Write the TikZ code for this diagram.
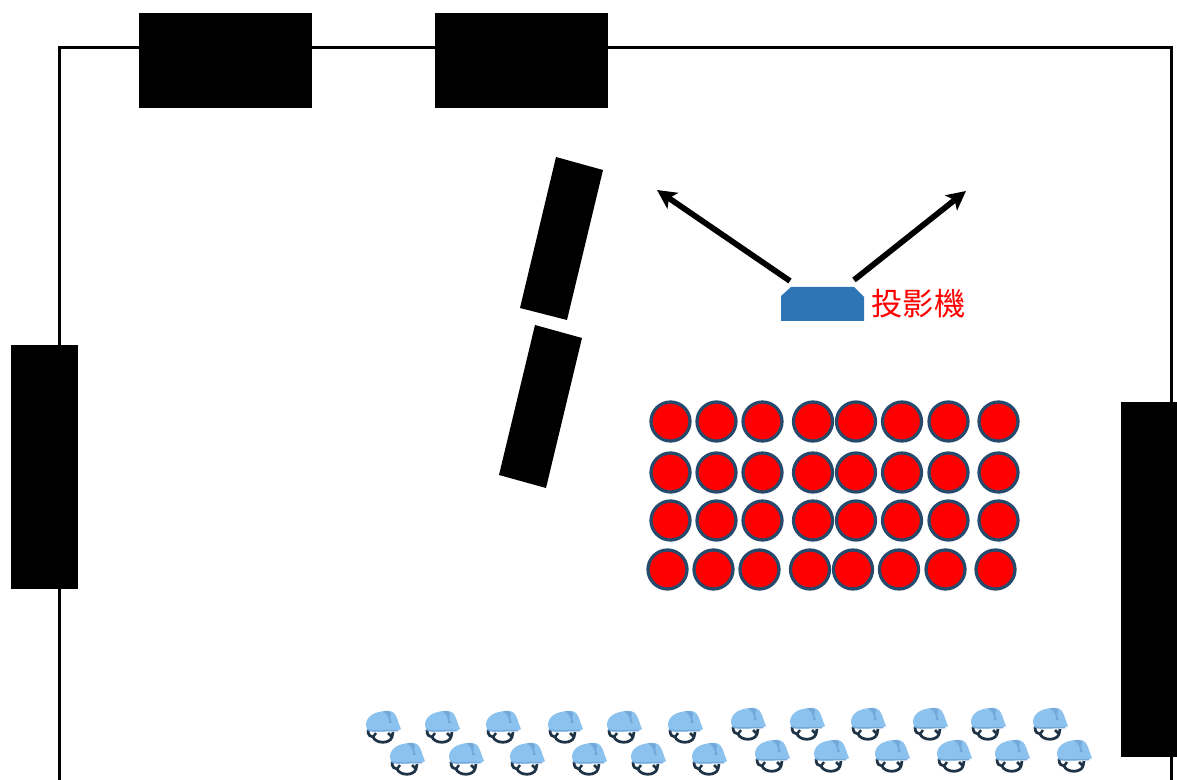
\documentclass[tikz,border=0pt]{standalone}
\usepackage{fontspec}
\newfontfamily\cjkfont{Noto Sans CJK TC}
\usetikzlibrary{arrows.meta}
\definecolor{seatedge}{HTML}{264A6B}
\definecolor{projblue}{HTML}{2E75B6}
\definecolor{helmetblue}{HTML}{8CC2EE}
\definecolor{helmetdark}{HTML}{73AADB}
\definecolor{strapdark}{HTML}{1F3347}
\tikzset{
  wall/.style={draw=black, line width=0.06cm},
  block/.style={fill=black},
  seat/.style={fill=red, draw=seatedge, line width=0.065cm},
  beam/.style={draw=black, line width=0.115cm, -{Stealth[length=0.38cm,width=0.38cm,inset=0.09cm]}},
  helmet/.pic={
    \draw[strapdark, line width=0.055cm] (-15,4) .. controls (-15,9) and (-13,11) .. (-10,11)
      .. controls (-7,18) and (7,18) .. (9,11) -- (10,6);
    \draw[strapdark, line width=0.05cm] (-10,11) -- (-7,7) (9,11) -- (5,7);
    \fill[helmetblue] (-17,-2) .. controls (-16,-10) and (-9,-14) .. (2,-15)
      .. controls (6,-15.5) and (9,-15) .. (11,-13)
      .. controls (14,-10) and (15,-4) .. (18,3) -- (14,5) -- (-12,5.5)
      .. controls (-15,5) and (-17,3) .. (-17,-2) -- cycle;
    \fill[helmetdark] (0,-15) .. controls (3,-15.5) and (7,-15) .. (8,-13)
      .. controls (7,-10) and (7,-7) .. (9,-3) -- (6,-3) .. controls (6,-8) and (5,-11) .. (0,-15) -- cycle;
    \draw[helmetdark, line width=0.03cm] (-16,3.5) -- (-10,5) -- (15,4.5);
  }
}
\begin{document}
\begin{tikzpicture}[x=0.02cm, y=-0.02cm]
\useasboundingbox (0,0) rectangle (1177,780);
% room
\draw[wall] (59,780) -- (59,48) -- (1171,48) -- (1171,780);
% doors and boards
\fill[block] (139,13) rectangle (312,108);
\fill[block] (435,13) rectangle (608,108);
\fill[block] (11,345) rectangle (78,589);
\fill[block] (1121,402) rectangle (1177,757);
\fill[block] (556,157) -- (603,170) -- (567,320) -- (520,308) -- cycle;
\fill[block] (535,325) -- (582,338) -- (546,488) -- (499,475) -- cycle;
% projector
\fill[projblue] (781,296) -- (791,287) -- (854,287) -- (864,297) -- (864,321) -- (781,321) -- cycle;
\node[text=red, inner sep=0pt, font=\cjkfont\fontsize{17.8pt}{17.8pt}\selectfont] (projlabel) at (918.5,304) {投影機};
\coordinate (beamAstart) at (790,281);
\coordinate (beamAend) at (657,190);
\coordinate (beamBstart) at (854,280);
\coordinate (beamBend) at (966,191);
\draw[beam] (beamAstart) -- (beamAend);
\draw[beam] (beamBstart) -- (beamBend);
% seats
\foreach \y in {421.5,472.5,520.5} {
  \foreach \x in {670.5,716.5,762.5,813,856,902,948.5,998.5} {
    \draw[seat] (\x,\y) circle (19.5);
  }
}
\foreach \x in {667.5,713.5,759.5,810,853,899,945.5,995.5} {
  \draw[seat] (\x,569.5) circle (19.5);
}
% helmets
\foreach \x in {383,442,503,565,624,685} {
  \pic at (\x,726) {helmet};
  \pic at (\x+24,758) {helmet};
}
\foreach \x in {748,807,868,930,988,1050} {
  \pic at (\x,723) {helmet};
  \pic at (\x+24,755) {helmet};
}
\end{tikzpicture}
\end{document}
